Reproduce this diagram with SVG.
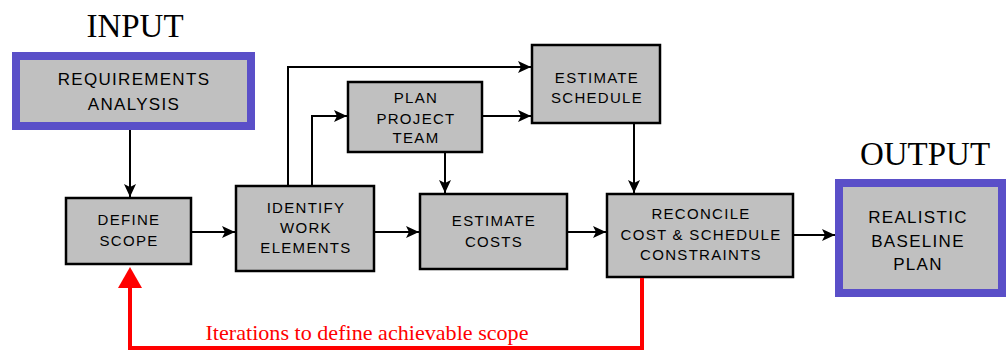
<svg xmlns="http://www.w3.org/2000/svg" width="1006" height="352" viewBox="0 0 1006 352">
<style>
.box{fill:#c0c0c0;stroke:#000;stroke-width:2.5}
.io{fill:#c0c0c0;stroke:#5a4fc8;stroke-width:8}
.t{font-family:"Liberation Sans",Arial,sans-serif;font-size:15px;letter-spacing:1.3px;text-anchor:middle;fill:#000}
.tl{font-family:"Liberation Sans",Arial,sans-serif;font-size:17px;letter-spacing:1.3px;text-anchor:middle;fill:#000}
.h{font-family:"Liberation Serif","Times New Roman",serif;font-size:33px;text-anchor:middle;fill:#000}
.c{fill:none;stroke:#000;stroke-width:2}
.r{fill:none;stroke:#ff0000;stroke-width:4}
</style>
<defs>
<marker id="ah" markerUnits="userSpaceOnUse" markerWidth="14" markerHeight="14" refX="13" refY="7" orient="auto">
<path d="M0,1 L13,7 L0,13 L3,7 Z" fill="#000"/>
</marker>
</defs>
<text class="h" x="135" y="37">INPUT</text>
<text class="h" x="925" y="165">OUTPUT</text>
<g id="req">
<rect class="io" x="16" y="56" width="235" height="70"/>
<text class="tl" x="134" y="85">REQUIREMENTS</text>
<text class="tl" x="134" y="110">ANALYSIS</text>
</g>
<g id="define">
<rect class="box" x="66" y="198" width="125" height="66"/>
<text class="t" x="129" y="225">DEFINE</text>
<text class="t" x="129" y="246">SCOPE</text>
</g>
<g id="identify">
<rect class="box" x="236" y="186" width="138" height="85"/>
<text class="t" x="306" y="213">IDENTIFY</text>
<text class="t" x="306" y="233">WORK</text>
<text class="t" x="306" y="253">ELEMENTS</text>
</g>
<g id="plan">
<rect class="box" x="348" y="82" width="134" height="70"/>
<text class="t" x="416" y="103">PLAN</text>
<text class="t" x="416" y="124">PROJECT</text>
<text class="t" x="416" y="143">TEAM</text>
</g>
<g id="schedule">
<rect class="box" x="532" y="45" width="128" height="78"/>
<text class="t" x="597" y="83">ESTIMATE</text>
<text class="t" x="597" y="103">SCHEDULE</text>
</g>
<g id="costs">
<rect class="box" x="420" y="194" width="147" height="75"/>
<text class="t" x="494" y="226">ESTIMATE</text>
<text class="t" x="494" y="247">COSTS</text>
</g>
<g id="reconcile">
<rect class="box" x="607" y="194" width="186" height="83"/>
<text class="t" x="701" y="219">RECONCILE</text>
<text class="t" x="701" y="240">COST &amp; SCHEDULE</text>
<text class="t" x="701" y="260">CONSTRAINTS</text>
</g>
<g id="output">
<rect class="io" x="839" y="183" width="163" height="110"/>
<text class="tl" x="918" y="223">REALISTIC</text>
<text class="tl" x="918" y="247">BASELINE</text>
<text class="tl" x="918" y="270">PLAN</text>
</g>
<g id="connectors">
<path class="c" d="M130,130 V197" marker-end="url(#ah)"/>
<path class="c" d="M191,232 H235" marker-end="url(#ah)"/>
<path class="c" d="M288,186 V67 H531" marker-end="url(#ah)"/>
<path class="c" d="M312,186 V116 H347" marker-end="url(#ah)"/>
<path class="c" d="M482,116 H531" marker-end="url(#ah)"/>
<path class="c" d="M445,152 V193" marker-end="url(#ah)"/>
<path class="c" d="M634,123 V193" marker-end="url(#ah)"/>
<path class="c" d="M374,232 H419" marker-end="url(#ah)"/>
<path class="c" d="M567,232 H606" marker-end="url(#ah)"/>
<path class="c" d="M793,235 H835" marker-end="url(#ah)"/>
<path class="r" d="M642,278 V348 H130 V284"/>
<path d="M130,267 L118,288 L142,288 Z" fill="#ff0000"/>
<text x="367" y="340" font-family="'Liberation Serif','Times New Roman',serif" font-size="21" fill="#ff0000" text-anchor="middle" textLength="323" lengthAdjust="spacingAndGlyphs">Iterations to define achievable scope</text>
</g>
</svg>
